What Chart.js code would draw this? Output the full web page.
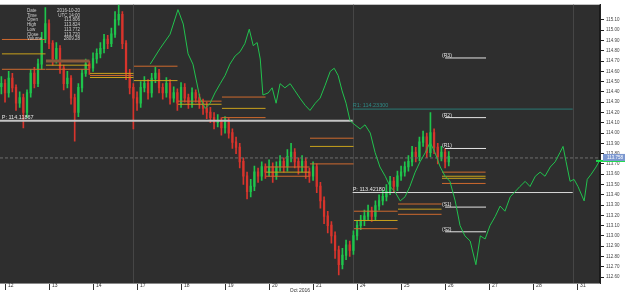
<!DOCTYPE html>
<html><head><meta charset="utf-8">
<script src="https://cdn.jsdelivr.net/npm/chart.js@4.4.0/dist/chart.umd.min.js"></script>
<style>html,body{margin:0;padding:0;background:#fff;overflow:hidden}#wrap{width:625px;height:294px}</style>
</head><body><div id="wrap"><canvas id="c" width="625" height="294"></canvas></div>
<script>
// ---- data ----
const dayLabels = ['12','13','14','17','18','19','20','21','24','25','26','27','28','31'];
const axisTitle = 'Oct 2016';
const candleOpenFirst = 114.45;
const candleClose = [114.48,114.39,114.53,114.44,114.29,114.34,114.20,114.39,114.58,114.48,
114.67,114.91,115.06,114.87,114.72,114.82,114.63,114.48,114.53,114.34,
114.20,114.44,114.58,114.67,114.63,114.72,114.77,114.82,114.91,114.87,
114.96,115.10,115.15,114.87,114.58,114.44,114.34,114.29,114.44,114.48,
114.39,114.53,114.58,114.44,114.39,114.48,114.34,114.39,114.29,114.44,
114.34,114.29,114.39,114.34,114.29,114.24,114.20,114.15,114.10,114.12,
114.05,114.10,114.00,113.91,113.86,113.72,113.58,113.43,113.48,113.62,
113.58,113.67,113.62,113.67,113.58,113.67,113.72,113.67,113.77,113.81,
113.72,113.67,113.72,113.62,113.58,113.67,113.48,113.34,113.19,113.10,
113.00,112.86,112.72,112.81,112.91,112.86,113.00,113.10,113.15,113.19,
113.24,113.19,113.29,113.34,113.38,113.43,113.53,113.48,113.58,113.62,
113.67,113.72,113.81,113.77,113.91,113.96,113.81,114.00,113.86,113.77,
113.81,113.72,113.77];
const candleHigh = [114.55,114.52,114.60,114.58,114.47,114.40,114.38,114.42,114.62,114.64,
114.72,114.98,115.22,115.10,114.90,114.88,114.85,114.66,114.60,114.56,
114.38,114.48,114.62,114.72,114.70,114.78,114.82,114.88,114.96,114.95,
115.02,115.18,115.25,115.18,114.90,114.62,114.48,114.40,114.50,114.55,
114.52,114.58,114.64,114.62,114.48,114.54,114.52,114.45,114.43,114.49,
114.48,114.38,114.44,114.42,114.38,114.33,114.30,114.25,114.20,114.18,
114.15,114.16,114.14,114.04,113.96,113.90,113.76,113.62,113.55,113.68,
113.66,113.72,113.70,113.74,113.71,113.72,113.78,113.76,113.84,113.90,
113.85,113.76,113.78,113.76,113.66,113.72,113.70,113.52,113.38,113.24,
113.14,113.04,112.90,112.88,112.96,112.95,113.05,113.15,113.20,113.25,
113.30,113.28,113.34,113.40,113.44,113.50,113.58,113.57,113.63,113.68,
113.72,113.78,113.87,113.86,113.96,114.02,114.00,114.20,114.04,113.90,
113.87,113.85,113.82];
const candleLow = [114.38,114.30,114.35,114.40,114.22,114.25,114.05,114.15,114.35,114.44,
114.45,114.62,114.88,114.82,114.66,114.68,114.58,114.42,114.44,114.28,
113.92,114.16,114.40,114.55,114.57,114.60,114.68,114.73,114.78,114.82,
114.84,114.93,115.05,114.82,114.52,114.38,114.04,114.22,114.25,114.40,
114.33,114.35,114.49,114.39,114.33,114.35,114.28,114.30,114.22,114.25,
114.30,114.24,114.25,114.30,114.24,114.18,114.14,114.10,114.04,114.06,
113.98,114.00,113.95,113.85,113.80,113.66,113.50,113.36,113.38,113.44,
113.52,113.54,113.56,113.58,113.52,113.55,113.63,113.62,113.63,113.72,
113.66,113.60,113.62,113.56,113.52,113.54,113.42,113.27,113.12,113.03,
112.93,112.78,112.62,112.68,112.77,112.80,112.82,112.96,113.06,113.10,
113.15,113.14,113.15,113.25,113.30,113.34,113.40,113.43,113.44,113.54,
113.58,113.63,113.68,113.72,113.73,113.87,113.76,113.77,113.80,113.70,
113.73,113.66,113.68];
const candleStartDay = -1/12, candleStepDay = 1/12;

const lineTime = [3.30,3.52,3.75,3.93,4.05,4.16,4.27,4.43,4.55,4.66,4.77,4.89,5.00,5.11,5.23,5.34,5.45,5.55,5.64,5.73,5.80,5.86,5.98,6.07,6.16,6.25,6.36,6.48,6.59,6.70,6.82,6.93,7.05,7.16,7.27,7.39,7.48,7.57,7.66,7.75,7.84,7.95,8.07,8.18,8.30,8.41,8.52,8.64,8.75,8.86,8.98,9.09,9.20,9.32,9.43,9.55,9.66,9.77,9.89,10.00,10.11,10.23,10.34,10.45,10.57,10.70,10.80,10.91,11.02,11.14,11.25,11.36,11.48,11.59,11.70,11.82,11.93,12.05,12.16,12.27,12.39,12.50,12.61,12.68,12.75,12.84,12.93,13.02,13.16,13.23,13.32,13.43,13.52];
const linePrice = [114.67,114.82,114.96,115.20,115.06,114.77,114.67,114.34,114.24,114.29,114.39,114.48,114.56,114.67,114.75,114.79,114.87,115.01,114.85,114.88,114.72,114.37,114.39,114.44,114.29,114.48,114.44,114.48,114.41,114.34,114.27,114.22,114.29,114.34,114.46,114.60,114.63,114.56,114.41,114.29,114.12,114.08,114.04,114.08,114.00,113.81,113.67,113.58,113.48,113.43,113.34,113.38,113.48,113.62,113.72,113.81,113.91,113.81,113.67,113.58,113.53,113.34,113.10,113.00,112.95,112.72,113.00,112.97,113.10,113.19,113.29,113.24,113.38,113.43,113.48,113.53,113.48,113.58,113.62,113.58,113.67,113.72,113.81,113.87,113.72,113.53,113.55,113.48,113.34,113.55,113.60,113.67,113.74];

// daily level segments [day, price]
const orangeLevels = [[0,114.91],[0,114.62],[1,114.62],[2,114.56],[3,114.65],[4,114.31],[5,114.35],[5,114.15],[6,113.67],[6,113.58],[7,113.95],[7,113.70],[8,113.24],[8,113.07],[9,113.31],[9,113.21],[10,113.62],[10,113.51]];
const yellowLevels = [[0,114.77],[1,114.66],[2,114.58],[2,114.54],[3,114.51],[4,114.28],[5,114.24],[6,113.62],[7,113.87],[8,113.15],[9,113.26],[10,113.58],[10,113.56]];
const brownLevels = [[1,114.70]];
// weekly pivots [fromDay, toDay, price]
const pivotP1 = [-0.12, 7.9, 114.11867];
const pivotP2 = [7.9, 12.9, 113.42180];
const pivotR1 = [7.9, 12.9, 114.23300];
const dayPivotNames = ['(R3)','(R2)','(R1)','(S1)','(S2)'];
const dayPivotPrices = [114.73,114.15,113.85,113.28,113.04];
const dayPivotDay = 10;
const lastPrice = 113.758;
const weekBreaks = [2.91, 7.91, 12.91];
const infoLabels = ['Date','Time','Open','High','Low','Close','Volume'];
const infoValues = ['2016-10-20','UTC 14:00','113.806','113.824','113.772','113.720','2809.28'];

const X_MIN = -0.114, X_MAX = 13.52, Y_MIN = 112.542, Y_MAX = 115.248;
const FONT = '"Liberation Sans", Arial, sans-serif';

// ---- build datasets ----
const GREEN = '#1fc44c', RED = '#d8342c';
const wick = [], body = [], cColors = [];
let prev = candleOpenFirst;
candleClose.forEach((c, i) => {
  const t = candleStartDay + i * candleStepDay;
  wick.push({x: t, y: [candleLow[i], candleHigh[i]]});
  body.push({x: t, y: [Math.min(prev, c), Math.max(prev, c) + 0.004]});
  cColors.push(c >= prev ? GREEN : RED);
  prev = c;
});
const datasets = [];
datasets.push({type:'line', data: lineTime.map((t,i)=>({x:t,y:linePrice[i]})), borderColor:'#22c24e', borderWidth:1, pointRadius:0, tension:0, order:1});
function seg(d0, d1, p, color, w, dash) {
  datasets.push({type:'line', data:[{x:d0,y:p},{x:d1,y:p}], borderColor:color, borderWidth:w, borderDash:dash||[], pointRadius:0, order:2});
}
orangeLevels.forEach(([d,p]) => seg(d-0.07, d+0.92, p, '#cf6a2e', 1));
yellowLevels.forEach(([d,p]) => seg(d-0.07, d+0.92, p, '#c9a21c', 1));
brownLevels.forEach(([d,p]) => seg(d-0.07, d+0.92, p, '#8a5a3c', 3));
seg(pivotP1[0], pivotP1[1], pivotP1[2], '#c4c4c4', 2);
seg(pivotP2[0], pivotP2[1], pivotP2[2], '#d8d8d8', 1);
seg(pivotR1[0], pivotR1[1], pivotR1[2], '#2a7a76', 1);
dayPivotPrices.forEach(p => seg(dayPivotDay, dayPivotDay + 0.93, p, '#e4e4e4', 1));
seg(X_MIN, X_MAX, lastPrice, '#6e6e6e', 1, [3,2]);
datasets.push({type:'bar', data: body, backgroundColor: cColors, barThickness: 1.6, grouped:false, order:3});
datasets.push({type:'bar', data: wick, backgroundColor: cColors, barThickness: 1, grouped:false, order:4});

const decor = {
  id:'decor',
  beforeDraw(chart) {
    const {ctx, chartArea:a} = chart;
    ctx.save();
    ctx.fillStyle = '#fff'; ctx.fillRect(0,0,chart.width,chart.height);
    ctx.fillStyle = '#2e2e2e'; ctx.fillRect(a.left, a.top, a.right-a.left, a.bottom-a.top);
    const xs = chart.scales.x;
    ctx.strokeStyle = '#464646'; ctx.lineWidth = 1;
    weekBreaks.forEach(d => { const px = Math.round(xs.getPixelForValue(d))+0.5; ctx.beginPath(); ctx.moveTo(px,a.top); ctx.lineTo(px,a.bottom); ctx.stroke(); });
    ctx.restore();
  },
  afterDatasetsDraw(chart) {
    const {ctx, chartArea:a} = chart;
    const xs = chart.scales.x, ys = chart.scales.y;
    ctx.save();
    ctx.font = '5.5px ' + FONT;
    ctx.textBaseline = 'alphabetic';
    ctx.fillStyle = '#e6e6e6';
    ctx.fillText('P: ' + pivotP1[2].toFixed(5), xs.getPixelForValue(pivotP1[0]) + 2, ys.getPixelForValue(pivotP1[2]) - 2);
    ctx.fillText('P: ' + pivotP2[2].toFixed(5), xs.getPixelForValue(pivotP2[0]) + 0, ys.getPixelForValue(pivotP2[2]) - 2);
    ctx.fillStyle = '#2e8a86';
    ctx.fillText('R1: ' + pivotR1[2].toFixed(5), xs.getPixelForValue(pivotR1[0]) + 0, ys.getPixelForValue(pivotR1[2]) - 2);
    ctx.font = '5px ' + FONT;
    ctx.fillStyle = '#e6e6e6';
    dayPivotNames.forEach((n,i) => ctx.fillText(n, xs.getPixelForValue(dayPivotDay) - 3, ys.getPixelForValue(dayPivotPrices[i]) - 1));
    // info box
    ctx.fillStyle = '#cfcfcf';
    ctx.font = '4.5px ' + FONT;
    infoLabels.forEach((l,i) => {
      const y = 12 + i*4.7;
      ctx.textAlign = 'left'; ctx.fillText(l, 27, y);
      ctx.textAlign = 'right'; ctx.fillText(infoValues[i], 80, y);
    });
    ctx.textAlign = 'left';
    ctx.strokeStyle = '#1a1a1a'; ctx.lineWidth = 1;
    ctx.beginPath(); ctx.moveTo(a.right-0.5, a.top); ctx.lineTo(a.right-0.5, a.bottom); ctx.stroke();
    ctx.restore();
  },
  afterDraw(chart) {
    const {ctx, chartArea:a} = chart;
    const ys = chart.scales.y;
    ctx.save();
    const py = ys.getPixelForValue(lastPrice);
    ctx.fillStyle = '#19d84a'; ctx.fillRect(a.right - 4, py + 2, chart.width - a.right + 4, 2);
    ctx.fillStyle = '#7c98d0'; ctx.fillRect(a.right + 3, py - 4, chart.width - a.right - 3, 7);
    ctx.fillStyle = '#fff'; ctx.font = '4.5px ' + FONT; ctx.textBaseline = 'middle';
    ctx.fillText(lastPrice.toFixed(3), a.right + 7, py);
    ctx.restore();
  }
};

new Chart(document.getElementById('c'), {
  type:'bar',
  data:{datasets},
  options:{
    responsive:false, animation:false, devicePixelRatio:1,
    layout:{padding:0},
    plugins:{legend:{display:false}, tooltip:{enabled:false}},
    scales:{
      x:{type:'linear', position:'bottom', min:X_MIN, max:X_MAX, offset:false,
         grid:{offset:false, drawOnChartArea:false, tickLength:7, color:'#333', lineWidth:1},
         border:{display:true, color:'#888'},
         afterBuildTicks: s => { s.ticks = dayLabels.map((l,i)=>({value:i})); },
         afterFit: s => { s.height = 11; },
         ticks:{autoSkip:false, maxRotation:0, align:'start', labelOffset:3, padding:-7, color:'#333',
                font:{size:5, family:FONT},
                callback:(v)=> dayLabels[v] ?? ''},
         title:{display:true, text:axisTitle, color:'#333', padding:0, font:{size:5, family:FONT}}
      },
      y:{type:'linear', position:'right', min:Y_MIN, max:Y_MAX,
         grid:{drawOnChartArea:false, tickLength:4, color:'#222'},
         border:{display:true, color:'#222'},
         afterBuildTicks: s => { s.ticks = s.ticks.filter(t => Math.abs(t.value*10 - Math.round(t.value*10)) < 1e-6); },
         afterFit: s => { s.width = 25; },
         ticks:{stepSize:0.1, autoSkip:false, padding:2, color:'#444', font:{size:4.5, family:FONT},
                callback:v => v.toFixed(2)}
      }
    }
  },
  plugins:[decor]
});
</script></body></html>
